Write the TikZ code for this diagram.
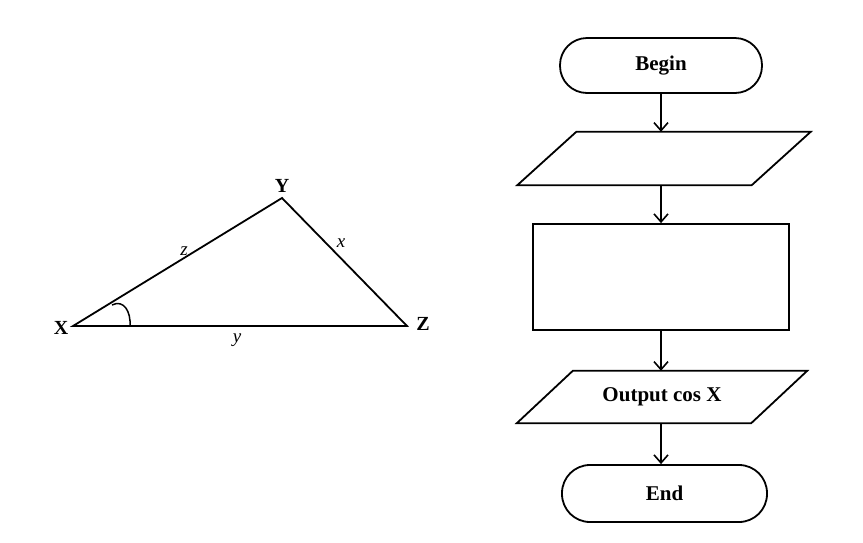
\documentclass[tikz,border=0pt]{standalone}
\usepackage{fontspec}
\setmainfont{Liberation Serif}
\usetikzlibrary{arrows.meta}
\begin{document}
\begin{tikzpicture}[x=1pt,y=-1pt,
  ln/.style={line width=1.8pt,black},
  term/.style={draw,ln,rectangle,rounded corners=27pt,minimum width=202pt,minimum height=55pt,font=\fontsize{21}{25}\selectfont\bfseries},
  procbox/.style={draw,ln,rectangle,minimum width=256pt,minimum height=106pt},
  iobox/.style={rectangle,minimum width=234pt,minimum height=53pt,inner sep=0pt,font=\fontsize{21}{25}\selectfont\bfseries},
  flow/.style={ln,-{Straight Barb[length=8pt,width=14pt,line width=1.6pt]}},
  vlab/.style={font=\fontsize{20}{22}\selectfont\bfseries},
  slab/.style={font=\fontsize{19}{21}\selectfont\itshape}]
\useasboundingbox (0,0) rectangle (863,542);
% triangle
\coordinate (X) at (73,326);
\coordinate (Y) at (282,198);
\coordinate (Z) at (407,326);
\draw[ln,line join=miter] (X) -- (Y) -- (Z) -- cycle;
\draw[line width=1.5pt] (112,305) .. controls (124,299) and (131,312) .. (130,326);
\node[vlab] (lX) at (61,328) {X};
\node[vlab] (lY) at (282,186) {Y};
\node[vlab] (lZ) at (423,324) {Z};
\node[slab] (lz) at (184,251) {z};
\node[slab] (lx) at (341,243) {x};
\node[slab] (ly) at (237,340) {y};
% flowchart
\node[term] (begin) at (661,65.5) {Begin};
\node[iobox] (in1) at (664,158.5) {};
\draw[ln,line join=miter] ([xshift=29.5pt]in1.north west) -- ([xshift=29.5pt]in1.north east) -- ([xshift=-29.5pt]in1.south east) -- ([xshift=-29.5pt]in1.south west) -- cycle;
\node[procbox] (proc) at (661,277) {};
\node[iobox,minimum height=52pt] (out) at (662,397) {Output cos X};
\draw[ln,line join=miter] ([xshift=28pt]out.north west) -- ([xshift=28pt]out.north east) -- ([xshift=-28pt]out.south east) -- ([xshift=-28pt]out.south west) -- cycle;
\node[term,minimum width=205pt,minimum height=57pt,rounded corners=28pt] (end) at (664.5,493.5) {End};
\draw[flow] (begin.south) -- (begin.south |- in1.north);
\draw[flow] (begin.south |- in1.south) -- (begin.south |- proc.north);
\draw[flow] (proc.south) -- (proc.south |- out.north);
\draw[flow] (proc.south |- out.south) -- (proc.south |- end.north);
\end{tikzpicture}
\end{document}
